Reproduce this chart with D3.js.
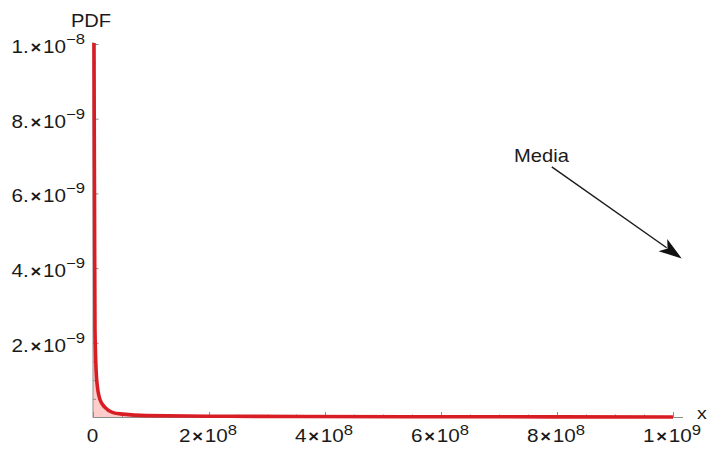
<!DOCTYPE html>
<html>
<head>
<meta charset="utf-8">
<script src="https://cdn.jsdelivr.net/npm/d3@7"></script>
<style>
  body { margin: 0; background: #fff; }
  svg text { font-family: "Liberation Sans", Arial, sans-serif; fill: #1a1a1a; }
</style>
</head>
<body>
<div id="chart"></div>
<script>
const width = 707;
const height = 450;
const stretch = 1.15; // the picture's text is a bit wider than it is tall

// curve (x, PDF)
const pdf_x = [0.5e6, 1.7e6, 2.6e6, 3.4e6, 6.4e6, 1.2e7, 2.07e7, 3.45e7, 5.2e7, 9.3e7, 2e8, 3.6e8, 6e8, 1e9];
const pdf_y = [2.0e-8, 1.0e-8, 5.8e-9, 2.35e-9, 1.0e-9, 4.8e-10, 2.7e-10, 1.3e-10, 9e-11, 5e-11, 3.5e-11, 2.5e-11, 2e-11, 1.5e-11];

// ticks: [value, mantissa, times, power, exponent]
const x_ticks = [[0, "0", "", "", ""], [2e8, "2", "×", "10", "8"], [4e8, "4", "×", "10", "8"], [6e8, "6", "×", "10", "8"], [8e8, "8", "×", "10", "8"], [1e9, "1", "×", "10", "9"]];
const y_ticks = [[2e-9, "2.", "×", "10", "−9"], [4e-9, "4.", "×", "10", "−9"], [6e-9, "6.", "×", "10", "−9"], [8e-9, "8.", "×", "10", "−9"], [1e-8, "1.", "×", "10", "−8"]];
const x_minor = d3.range(0, 1e9 + 1, 5e7);
const y_minor = d3.range(5e-10, 1e-8 + 1e-12, 5e-10);

// annotation: [x, y] in data units
const note_text = "Media";
const note_pos = [7.26e8, 6.85e-9];
const arrow_from = [7.91e8, 6.71e-9];
const arrow_to = [1.015e9, 4.26e-9];

const x = d3.scaleLinear().domain([0, 1e9]).range([93, 673]);
const y = d3.scaleLinear().domain([0, 1e-8]).range([417.5, 44]);

const svg = d3.select('#chart')
  .append('svg')
    .attr('width', width)
    .attr('height', height);

svg.append('clipPath')
    .attr('id', 'plot-clip')
  .append('rect')
    .attr('x', 0)
    .attr('y', 43)
    .attr('width', width)
    .attr('height', 380);

const pts = pdf_x.map((d, i) => [d, pdf_y[i]]);

// filling under the curve
svg.append('path')
  .datum(pts)
  .attr('clip-path', 'url(#plot-clip)')
  .attr('fill', 'rgba(255,0,0,0.2)')
  .attr('d', d3.area()
    .curve(d3.curveMonotoneX)
    .x(d => x(d[0]))
    .y0(y(0))
    .y1(d => y(d[1])));

// axes
const tick_col = '#8c8c8c';

const x_axis_minor = svg.append('g')
  .attr('transform', `translate(0,${y(0)})`)
  .call(d3.axisBottom(x).tickValues(x_minor).tickSizeInner(-3).tickSizeOuter(0).tickFormat(''));
const x_axis = svg.append('g')
  .attr('transform', `translate(0,${y(0)})`)
  .call(d3.axisBottom(x).tickValues(x_ticks.map(d => d[0])).tickSizeInner(-5.5).tickSizeOuter(0).tickFormat(''));
const y_axis_minor = svg.append('g')
  .attr('transform', `translate(${x(0)},0)`)
  .call(d3.axisLeft(y).tickValues(y_minor).tickSizeInner(-3).tickSizeOuter(0).tickFormat(''));
const y_axis = svg.append('g')
  .attr('transform', `translate(${x(0)},0)`)
  .call(d3.axisLeft(y).tickValues(y_ticks.map(d => d[0])).tickSizeInner(-5.5).tickSizeOuter(0).tickFormat(''));

[x_axis_minor, x_axis, y_axis_minor, y_axis].forEach(g => {
  g.select('.domain').remove();
  g.selectAll('line').attr('stroke', tick_col).attr('stroke-width', 1);
});

svg.append('line')
  .attr('x1', x(0)).attr('x2', x(1e9) + 10)
  .attr('y1', y(0)).attr('y2', y(0))
  .attr('stroke', tick_col);
svg.append('line')
  .attr('x1', x(0)).attr('x2', x(0))
  .attr('y1', y(0)).attr('y2', y(1e-8) - 2)
  .attr('stroke', tick_col);

// text placed at (px, py), widened by `stretch`
let put_text = (px, py, anchor) => svg.append('text')
  .attr('transform', `translate(${px},${py}) scale(${stretch},1)`)
  .attr('text-anchor', anchor);

// tick labels with superscripts
let label = (sel, d, raise) => {
  sel.append('tspan').attr('font-size', 18).text(d[1]);
  if (d[4]) {
    sel.append('tspan').attr('font-size', 16).attr('font-weight', 'bold').attr('dx', 1.5).text(d[2]);
    sel.append('tspan').attr('font-size', 18).attr('dx', 1.5).text(d[3]);
    sel.append('tspan').attr('font-size', 14.5).attr('dy', -raise).text(d[4]);
  }
};

x_ticks.forEach(d => {
  put_text(x(d[0]) - (d[4] ? 1 : 0.5), 442, 'middle').call(label, d, 7);
});
y_ticks.forEach(d => {
  put_text(85, y(d[0]) + 9, 'end').call(label, d, 9);
});

// curve
svg.append('path')
  .datum(pts)
  .attr('clip-path', 'url(#plot-clip)')
  .attr('fill', 'none')
  .attr('stroke', '#d81e24')
  .attr('stroke-width', 3.6)
  .attr('stroke-linejoin', 'round')
  .attr('d', d3.line()
    .curve(d3.curveMonotoneX)
    .x(d => x(d[0]))
    .y(d => y(d[1])));

// axis labels
put_text(91, 27, 'middle')
  .attr('font-size', 17.5)
  .text('PDF');
put_text(697, 419, 'start')
  .attr('font-size', 17)
  .text('x');

// annotation
put_text(x(note_pos[0]), y(note_pos[1]), 'start')
  .attr('font-size', 17.5)
  .text(note_text);

const ax1 = x(arrow_from[0]), ay1 = y(arrow_from[1]);
const ax2 = x(arrow_to[0]), ay2 = y(arrow_to[1]);
const len = Math.hypot(ax2 - ax1, ay2 - ay1);
const ux = (ax2 - ax1) / len, uy = (ay2 - ay1) / len;
const head = 23, half = 7.5;
svg.append('line')
  .attr('x1', ax1).attr('y1', ay1)
  .attr('x2', ax2 - ux * head * 0.8).attr('y2', ay2 - uy * head * 0.8)
  .attr('stroke', '#1a1a1a')
  .attr('stroke-width', 1.4);
svg.append('path')
  .attr('fill', '#111')
  .attr('d', `M${ax2},${ay2}` +
    `L${ax2 - ux * head - uy * half},${ay2 - uy * head + ux * half}` +
    `L${ax2 - ux * head * 0.75},${ay2 - uy * head * 0.75}` +
    `L${ax2 - ux * head + uy * half},${ay2 - uy * head - ux * half}Z`);
</script>
</body>
</html>
